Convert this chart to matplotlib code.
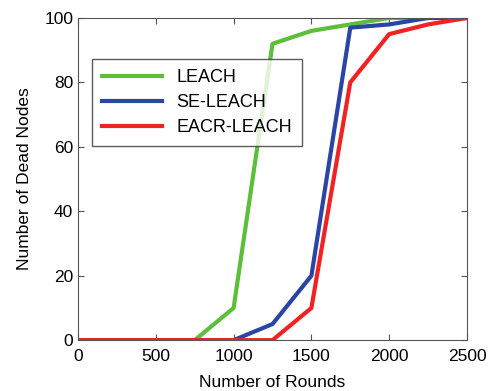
import matplotlib
matplotlib.use("Agg")
import matplotlib.pyplot as plt

plt.rcParams['font.family'] = ['Liberation Sans', 'DejaVu Sans']

rounds_leach = [0, 750, 1000, 1250, 1500, 1750, 2000, 2500]
dead_leach = [0, 0, 10, 92, 96, 98, 100, 100]
rounds_se = [0, 1000, 1250, 1500, 1750, 2000, 2250, 2500]
dead_se = [0, 0, 5, 20, 97, 98, 100, 100]
rounds_eacr = [0, 1250, 1500, 1750, 2000, 2250, 2500]
dead_eacr = [0, 0, 10, 80, 95, 98, 100]
labels = ["LEACH", "SE-LEACH", "EACR-LEACH"]
xticks = [0, 500, 1000, 1500, 2000, 2500]
yticks = [0, 20, 40, 60, 80, 100]

fig = plt.figure(figsize=(4.91, 3.91), dpi=100)
ax = fig.add_axes([0.159, 0.130, 0.792, 0.824])
ax.plot(rounds_leach, dead_leach, color='#5cbf3a', lw=3, label=labels[0])
ax.plot(rounds_se, dead_se, color='#2b45a5', lw=3, label=labels[1])
ax.plot(rounds_eacr, dead_eacr, color='#f02222', lw=3, label=labels[2])
ax.set_xlim(0, 2500)
ax.set_ylim(0, 100)
ax.set_xticks(xticks)
ax.set_yticks(yticks)
ax.tick_params(direction='in', top=True, right=True, labelsize=12.5, length=4, color='#555555')
ax.tick_params(axis='x', pad=6)
for s in ax.spines.values():
    s.set_color('#555555')
ax.set_xlabel('Number of Rounds', fontsize=12.5, labelpad=8)
ax.set_ylabel('Number of Dead Nodes', fontsize=12.5, labelpad=9)
leg = ax.legend(loc='upper left', bbox_to_anchor=(0.036, 0.873), fontsize=13,
                fancybox=False, edgecolor='#333333', handlelength=3.3,
                borderpad=0.55, labelspacing=0.45, borderaxespad=0)
leg.get_frame().set_linewidth(1.0)
fig.savefig('out.png', dpi=100)
